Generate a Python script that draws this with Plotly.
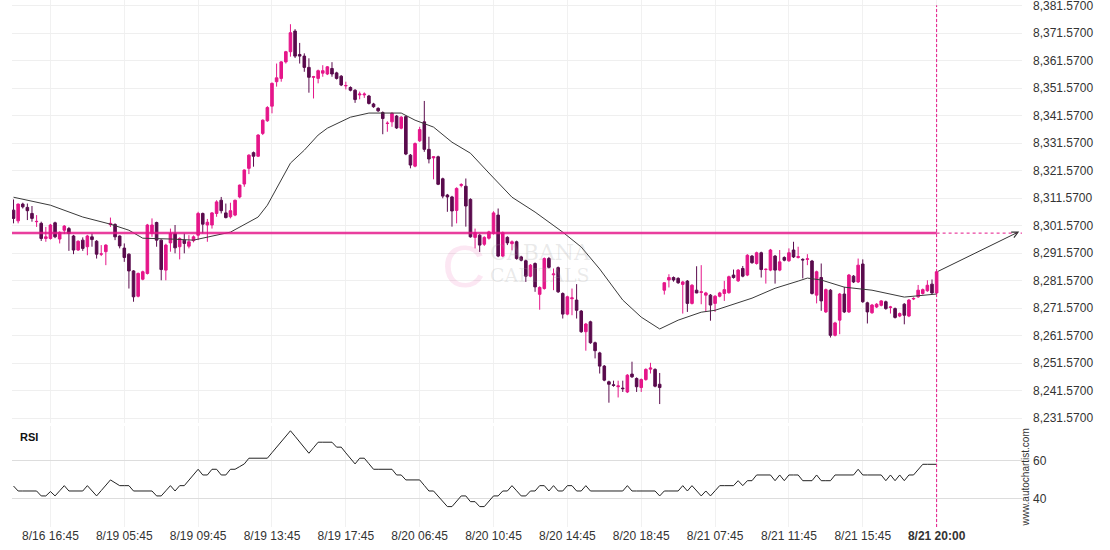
import plotly.graph_objects as go

# ---------------- data ----------------
open_ = [
    8307.2, 8303.3, 8309.4, 8308.2, 8306.0, 8303.0, 8302.4, 8296.9, 8296.9, 8302.6,
    8296.7, 8299.9, 8300.5, 8297.8, 8292.7, 8296.3, 8293.9, 8297.5, 8295.9, 8291.2,
    8292.1, 8301.9, 8302.0, 8297.8, 8293.4, 8291.2, 8285.1, 8275.9, 8282.1, 8284.2,
    8298.7, 8302.7, 8296.3, 8285.4, 8295.3, 8298.7, 8293.9, 8296.3, 8294.1, 8296.1,
    8298.1, 8306.0, 8301.8, 8301.8, 8306.0, 8310.8, 8306.2, 8304.8, 8305.4, 8312.0,
    8316.7, 8322.4, 8328.1, 8326.8, 8335.1, 8339.7, 8345.0, 8353.9, 8355.1, 8361.1,
    8364.8, 8372.3, 8363.8, 8363.2, 8359.1, 8355.5, 8355.1, 8357.0, 8356.7, 8358.7,
    8357.1, 8355.9, 8352.4, 8351.8, 8350.8, 8349.1, 8349.1, 8348.7, 8345.8, 8344.2,
    8342.7, 8338.7, 8339.3, 8341.4, 8337.0, 8341.2, 8327.2, 8323.2, 8332.4, 8339.3,
    8329.3, 8326.2, 8326.6, 8318.6, 8312.7, 8312.0, 8307.1, 8316.2, 8315.9, 8311.1,
    8297.3, 8298.1, 8294.8, 8297.0, 8298.7, 8305.4, 8290.5, 8297.3, 8295.0, 8295.7,
    8290.2, 8288.8, 8283.2, 8287.8, 8276.6, 8278.7, 8289.6, 8283.7, 8286.3, 8276.9,
    8269.4, 8275.0, 8274.5, 8270.5, 8263.0, 8266.6, 8259.0, 8255.3, 8250.5, 8244.8,
    8243.7, 8243.0, 8242.5, 8241.1, 8247.6, 8246.0, 8242.7, 8245.6, 8249.4, 8249.3,
    8243.9, 8278.1, 8281.8, 8282.7, 8282.4, 8280.2, 8281.4, 8273.3, 8278.1, 8277.3,
    8276.3, 8276.3, 8273.3, 8275.9, 8276.9, 8277.2, 8283.6, 8281.5, 8286.0, 8283.6,
    8290.5, 8287.8, 8291.7, 8285.6, 8285.4, 8290.5, 8285.4, 8290.0, 8288.8, 8292.7,
    8290.0, 8289.3, 8289.3, 8288.7, 8276.3, 8282.7, 8270.2, 8278.1, 8261.7, 8267.2,
    8276.7, 8270.2, 8283.2, 8281.1, 8287.6, 8273.5, 8269.9, 8272.0, 8272.6, 8273.9,
    8271.8, 8271.4, 8268.7, 8273.0, 8268.7, 8274.9, 8275.7, 8276.9, 8277.9, 8280.3,
    8277.1,
]
high = [
    8311.1, 8309.6, 8309.9, 8309.6, 8308.7, 8305.4, 8303.0, 8301.1, 8302.2, 8303.0,
    8299.5, 8301.8, 8301.1, 8298.2, 8296.2, 8297.3, 8298.2, 8298.7, 8296.3, 8294.5,
    8294.8, 8304.5, 8302.4, 8298.0, 8295.1, 8291.5, 8285.4, 8284.5, 8285.2, 8302.2,
    8304.2, 8303.0, 8296.6, 8295.0, 8300.5, 8301.8, 8297.3, 8298.7, 8298.1, 8298.0,
    8306.6, 8306.3, 8304.0, 8306.5, 8310.8, 8312.0, 8309.6, 8309.9, 8311.0, 8316.5,
    8322.0, 8327.5, 8328.5, 8334.8, 8340.2, 8345.0, 8353.6, 8360.5, 8361.4, 8365.1,
    8374.8, 8373.0, 8368.0, 8364.2, 8362.4, 8356.0, 8358.3, 8359.9, 8359.6, 8361.0,
    8357.5, 8356.3, 8353.9, 8352.2, 8351.2, 8350.3, 8350.0, 8349.1, 8346.2, 8344.6,
    8343.1, 8339.5, 8342.8, 8341.8, 8341.4, 8341.6, 8327.6, 8331.8, 8337.5, 8346.9,
    8333.9, 8326.8, 8327.0, 8319.0, 8313.1, 8312.4, 8315.5, 8317.0, 8318.7, 8311.5,
    8300.5, 8298.5, 8297.7, 8299.7, 8306.8, 8307.8, 8299.4, 8297.7, 8296.2, 8296.1,
    8290.6, 8289.2, 8287.6, 8288.2, 8279.5, 8290.0, 8290.2, 8286.0, 8286.7, 8277.3,
    8276.1, 8278.7, 8280.3, 8270.9, 8266.2, 8267.0, 8259.4, 8255.7, 8250.9, 8245.2,
    8245.2, 8245.2, 8245.2, 8247.6, 8252.1, 8246.4, 8246.0, 8249.7, 8251.7, 8249.7,
    8248.0, 8281.0, 8283.9, 8283.1, 8282.8, 8281.5, 8281.8, 8280.3, 8286.8, 8287.2,
    8277.5, 8276.7, 8276.3, 8277.5, 8281.5, 8283.4, 8285.6, 8285.8, 8286.9, 8291.2,
    8290.9, 8292.1, 8292.1, 8286.0, 8293.1, 8290.9, 8292.7, 8290.4, 8293.3, 8295.7,
    8293.9, 8289.7, 8291.2, 8289.1, 8285.2, 8287.8, 8278.7, 8278.5, 8266.6, 8277.1,
    8279.3, 8284.0, 8283.6, 8289.6, 8289.3, 8273.9, 8273.1, 8273.4, 8274.5, 8274.3,
    8272.4, 8271.8, 8270.0, 8273.4, 8274.9, 8275.5, 8280.0, 8278.7, 8281.7, 8282.0,
    8285.2,
]
low = [
    8302.4, 8302.4, 8307.8, 8303.6, 8303.0, 8301.1, 8296.0, 8295.7, 8296.5, 8297.0,
    8295.1, 8298.5, 8292.4, 8291.2, 8292.4, 8292.4, 8290.8, 8293.9, 8289.6, 8290.5,
    8287.2, 8301.1, 8296.3, 8293.3, 8288.4, 8278.7, 8273.9, 8275.5, 8281.7, 8283.8,
    8297.5, 8293.9, 8281.7, 8281.7, 8292.1, 8291.5, 8289.3, 8291.5, 8293.3, 8295.5,
    8296.3, 8298.7, 8295.7, 8300.5, 8304.8, 8306.0, 8304.2, 8304.2, 8305.0, 8311.5,
    8315.7, 8320.3, 8323.0, 8326.5, 8334.5, 8339.3, 8342.4, 8352.1, 8353.9, 8360.5,
    8363.0, 8362.5, 8360.5, 8357.5, 8349.9, 8347.8, 8353.3, 8355.7, 8356.3, 8355.7,
    8354.7, 8352.3, 8351.1, 8350.4, 8346.2, 8347.5, 8348.0, 8345.6, 8344.4, 8342.9,
    8334.8, 8335.7, 8337.5, 8336.7, 8336.6, 8327.2, 8322.4, 8322.8, 8332.0, 8328.4,
    8324.2, 8318.4, 8316.3, 8311.5, 8306.6, 8301.2, 8302.4, 8315.5, 8301.2, 8297.2,
    8293.3, 8292.0, 8294.2, 8296.5, 8298.3, 8290.1, 8290.1, 8294.5, 8292.6, 8289.2,
    8288.6, 8281.1, 8282.8, 8277.5, 8271.0, 8278.3, 8286.0, 8278.1, 8277.1, 8267.8,
    8269.0, 8269.0, 8267.8, 8262.6, 8256.1, 8258.6, 8253.3, 8247.8, 8245.0, 8237.2,
    8243.0, 8239.1, 8241.1, 8240.7, 8246.2, 8241.1, 8241.1, 8245.2, 8247.8, 8242.8,
    8236.7, 8276.5, 8279.1, 8281.2, 8280.4, 8269.6, 8270.2, 8272.9, 8277.0, 8273.0,
    8270.2, 8267.0, 8270.2, 8275.5, 8274.2, 8276.8, 8282.3, 8281.1, 8282.8, 8283.2,
    8287.7, 8287.4, 8282.7, 8280.5, 8285.0, 8280.5, 8285.0, 8288.6, 8288.4, 8289.8,
    8289.6, 8282.4, 8287.2, 8276.5, 8273.3, 8270.6, 8269.8, 8260.9, 8261.3, 8262.1,
    8269.8, 8269.8, 8280.7, 8280.7, 8273.5, 8266.0, 8269.5, 8271.6, 8272.2, 8271.0,
    8269.6, 8267.8, 8268.3, 8265.7, 8268.3, 8274.5, 8275.3, 8276.5, 8277.5, 8276.7,
    8276.7,
]
close = [
    8304.2, 8309.4, 8308.4, 8307.0, 8304.2, 8303.1, 8296.9, 8297.5, 8301.8, 8297.5,
    8299.1, 8301.4, 8298.7, 8292.7, 8295.9, 8293.3, 8297.8, 8296.5, 8291.2, 8291.3,
    8294.5, 8302.4, 8297.5, 8294.2, 8290.0, 8285.1, 8275.7, 8284.2, 8284.8, 8301.8,
    8301.8, 8296.3, 8285.6, 8294.5, 8298.7, 8293.5, 8296.9, 8295.1, 8295.7, 8297.5,
    8306.0, 8302.1, 8302.8, 8306.2, 8310.2, 8307.0, 8304.5, 8307.0, 8310.8, 8316.3,
    8321.8, 8327.2, 8326.8, 8334.5, 8339.9, 8344.5, 8353.3, 8355.3, 8361.1, 8364.8,
    8371.7, 8363.2, 8363.2, 8359.1, 8355.5, 8355.7, 8357.9, 8357.9, 8359.3, 8356.7,
    8355.1, 8352.7, 8352.5, 8350.8, 8347.4, 8349.4, 8349.4, 8346.0, 8344.8, 8343.3,
    8340.5, 8338.8, 8342.4, 8337.1, 8341.0, 8327.6, 8323.6, 8331.4, 8336.5, 8329.3,
    8325.8, 8326.6, 8316.6, 8312.3, 8312.0, 8306.9, 8315.1, 8316.5, 8308.7, 8297.5,
    8299.0, 8294.5, 8297.3, 8299.3, 8306.2, 8290.5, 8299.0, 8295.3, 8295.7, 8289.6,
    8289.0, 8283.2, 8287.2, 8279.3, 8279.1, 8289.6, 8286.4, 8284.0, 8277.5, 8269.4,
    8275.7, 8275.3, 8270.8, 8263.0, 8265.8, 8259.0, 8256.1, 8250.5, 8245.4, 8243.9,
    8243.5, 8243.3, 8242.3, 8247.2, 8246.6, 8243.0, 8245.6, 8249.3, 8249.8, 8243.2,
    8242.7, 8280.8, 8282.7, 8281.8, 8280.8, 8281.1, 8273.3, 8279.9, 8277.1, 8277.5,
    8277.1, 8272.7, 8275.9, 8277.1, 8278.3, 8283.0, 8282.7, 8285.4, 8283.2, 8290.8,
    8288.1, 8291.7, 8285.6, 8285.7, 8292.7, 8285.4, 8288.4, 8289.0, 8291.7, 8290.2,
    8290.3, 8289.1, 8289.5, 8276.9, 8284.8, 8274.2, 8278.3, 8261.7, 8266.2, 8276.7,
    8270.2, 8283.6, 8281.1, 8287.2, 8273.9, 8270.2, 8272.7, 8273.0, 8274.2, 8271.4,
    8272.0, 8268.2, 8269.6, 8269.0, 8274.5, 8275.1, 8278.1, 8278.3, 8279.9, 8277.1,
    8284.8,
]

# moving-average line, read at these bar positions
ma_bar = [0, 8, 15, 21, 25, 28, 34, 39, 47, 53, 55, 60, 63, 66, 68, 73, 77, 84, 87,
          91, 95, 99, 103, 108, 113, 119, 123, 127, 132, 136, 140, 144, 149, 152,
          160, 165, 170, 172, 175, 180, 186, 193, 200]
ma_val = [8311.9, 8309.0, 8304.7, 8302.1, 8299.9, 8297.0, 8296.7, 8296.3, 8299.2,
          8304.7, 8309.0, 8324.3, 8329.0, 8334.5, 8337.0, 8341.0, 8342.5, 8342.5,
          8339.9, 8337.4, 8331.9, 8327.9, 8320.7, 8311.9, 8306.5, 8299.2, 8293.8,
          8285.8, 8274.5, 8268.3, 8264.0, 8267.2, 8270.1, 8270.8, 8275.2, 8278.8,
          8281.4, 8282.5, 8281.8, 8279.2, 8278.1, 8275.6, 8276.7]

rsi = [
    46.8, 44.2, 44.2, 44.2, 44.2, 44.2, 41.6, 41.6, 43.9, 41.6,
    44.3, 47.0, 44.2, 44.2, 44.2, 44.2, 47.0, 44.3, 41.6, 44.4,
    47.2, 50.0, 48.5, 47.0, 47.0, 47.0, 44.2, 44.2, 44.2, 44.2,
    44.2, 41.6, 41.6, 44.3, 47.0, 44.2, 47.0, 47.0, 49.9, 52.8,
    55.6, 52.6, 52.6, 55.6, 55.6, 52.6, 52.6, 55.6, 55.6, 57.0,
    58.4, 61.4, 61.4, 61.4, 61.4, 61.4, 64.3, 67.2, 70.0, 72.9,
    75.8, 72.9, 70.0, 67.0, 64.0, 66.9, 69.8, 69.8, 69.8, 69.8,
    67.2, 67.2, 64.2, 61.2, 58.4, 61.4, 61.4, 58.5, 55.6, 55.6,
    55.6, 55.6, 55.6, 52.6, 52.6, 50.0, 50.0, 50.0, 50.0, 47.1,
    44.2, 44.2, 41.5, 38.8, 36.0, 36.0, 38.8, 41.6, 41.6, 38.6,
    38.6, 36.0, 36.0, 38.8, 41.6, 41.6, 44.2, 44.2, 47.0, 44.3,
    41.6, 41.6, 44.2, 44.2, 47.0, 47.0, 44.2, 47.0, 44.2, 44.2,
    47.0, 47.0, 44.2, 44.2, 47.0, 44.2, 44.2, 44.2, 44.2, 44.2,
    44.2, 44.2, 44.2, 47.0, 44.2, 44.2, 44.2, 44.2, 44.2, 44.2,
    41.6, 44.2, 44.2, 44.2, 44.2, 47.0, 44.2, 47.0, 44.3, 41.6,
    44.2, 41.6, 44.3, 47.0, 47.0, 47.0, 47.0, 49.6, 47.0, 49.6,
    49.6, 52.6, 52.6, 52.6, 52.6, 49.6, 52.6, 49.6, 52.6, 52.6,
    52.6, 49.6, 49.6, 49.6, 52.6, 49.6, 49.6, 49.6, 52.6, 52.6,
    52.6, 52.6, 52.6, 55.6, 52.6, 52.6, 52.6, 52.6, 52.6, 49.6,
    52.6, 49.6, 52.6, 49.6, 52.6, 52.6, 55.4, 58.2, 58.2, 58.2,
    58.2,
]

tick_bar = [8, 24, 40, 56, 72, 88, 104, 120, 136, 152, 168, 184, 200]
tick_text = ["8/16 16:45", "8/19 05:45", "8/19 09:45", "8/19 13:45", "8/19 17:45",
             "8/20 06:45", "8/20 10:45", "8/20 14:45", "8/20 18:45", "8/21 07:45",
             "8/21 11:45", "8/21 15:45", "<b>8/21 20:00</b>"]
price_ticks = [8231.57, 8241.57, 8251.57, 8261.57, 8271.57, 8281.57, 8291.57,
               8301.57, 8311.57, 8321.57, 8331.57, 8341.57, 8351.57, 8361.57,
               8371.57, 8381.57]
rsi_ticks = [40, 60]

level_price = 8298.85
arrow_from = 8284.7
arrow_to = 8299.4
last_bar = 200

PINK = "#E5168A"
DARK = "#5A0B4D"
TXT = "#333333"

x = list(range(len(close)))

fig = go.Figure()
fig.add_trace(go.Candlestick(
    x=x, open=open_, high=high, low=low, close=close,
    increasing=dict(line=dict(color=PINK, width=1), fillcolor=PINK),
    decreasing=dict(line=dict(color=DARK, width=1), fillcolor=DARK),
    whiskerwidth=0, showlegend=False, hoverinfo="skip", yaxis="y"))
fig.add_trace(go.Scatter(x=ma_bar, y=ma_val, mode="lines",
                         line=dict(color="#3a3a3a", width=1),
                         showlegend=False, hoverinfo="skip", yaxis="y"))
fig.add_trace(go.Scatter(x=x, y=rsi, mode="lines",
                         line=dict(color="#222222", width=1),
                         showlegend=False, hoverinfo="skip", yaxis="y2"))

shapes = [
    dict(type="line", xref="x", yref="y", x0=-0.33, x1=last_bar, y0=level_price,
         y1=level_price, line=dict(color="rgba(229,22,138,0.3)", width=3.5), layer="above"),
    dict(type="line", xref="x", yref="y", x0=-0.33, x1=last_bar, y0=level_price,
         y1=level_price, line=dict(color=PINK, width=1.5), layer="above"),
    dict(type="line", xref="x", yref="y", x0=last_bar, x1=218.5, y0=level_price,
         y1=level_price, line=dict(color=PINK, width=1, dash="dot"), layer="above"),
    dict(type="line", xref="x", yref="paper", x0=last_bar, x1=last_bar, y0=0,
         y1=0.99, line=dict(color=PINK, width=1, dash="3px,2px"), layer="above"),
]

annotations = [
    dict(x=217.9, y=arrow_to, xref="x", yref="y", ax=last_bar, ay=arrow_from,
         axref="x", ayref="y", text="", showarrow=True, arrowhead=5, arrowsize=1.2,
         arrowwidth=1, arrowcolor="#333333"),
    dict(x=0.006, y=0.171, xref="paper", yref="paper", text="<b>RSI</b>",
         showarrow=False, xanchor="left", yanchor="middle",
         font=dict(family="Liberation Sans, Arial", size=11, color="#111111")),
    dict(x=1.0035, y=0.093, xref="paper", yref="paper", text="www.autochartist.com",
         showarrow=False, textangle=-90, xanchor="center", yanchor="middle",
         font=dict(family="Liberation Sans, Arial", size=10, color=TXT)),
    # watermark
    dict(x=0.447, y=0.495, xref="paper", yref="paper", text="C", showarrow=False,
         font=dict(family="Liberation Sans, Arial", size=60, color="rgba(229,22,138,0.10)")),
    dict(x=0.523, y=0.52, xref="paper", yref="paper", text="CABANA", showarrow=False,
         font=dict(family="DejaVu Serif", size=22, color="rgba(160,160,160,0.22)")),
    dict(x=0.523, y=0.478, xref="paper", yref="paper", text="CAPITALS", showarrow=False,
         font=dict(family="DejaVu Serif", size=19, color="rgba(160,160,160,0.22)")),
]

fig.update_layout(
    width=1110, height=550,
    margin=dict(l=12, r=88, t=0, b=23),
    paper_bgcolor="white", plot_bgcolor="white",
    boxgap=0.2,
    showlegend=False,
    shapes=shapes,
    annotations=annotations,
    xaxis=dict(range=[-0.33, 218.5], anchor="y2", tickmode="array", tickvals=tick_bar,
               ticktext=tick_text, showgrid=True, gridcolor="#f1f1f1", gridwidth=1,
               zeroline=False, showline=False, ticks="",
               rangeslider=dict(visible=False),
               tickfont=dict(family="Liberation Sans Narrow, Arial Narrow, Liberation Sans",
                             size=12, color=TXT)),
    yaxis=dict(domain=[0.197, 1], range=[8229.75, 8383.6], side="right", anchor="x",
               tickmode="array", tickvals=price_ticks, tickformat=",.4f",
               showgrid=True, gridcolor="#efefef", zeroline=False, showline=False,
               ticks="", ticklabelstandoff=10, ticklabeloverflow="allow",
               tickfont=dict(family="Liberation Sans, Arial", size=12, color=TXT)),
    yaxis2=dict(domain=[0, 0.192], range=[25.3, 78.4], side="right", anchor="x",
                tickmode="array", tickvals=rsi_ticks, showgrid=True,
                gridcolor="#dddddd", zeroline=False, showline=False, ticks="",
                ticklabelstandoff=10,
                tickfont=dict(family="Liberation Sans, Arial", size=12, color=TXT)),
)

fig.write_html("out.html")
